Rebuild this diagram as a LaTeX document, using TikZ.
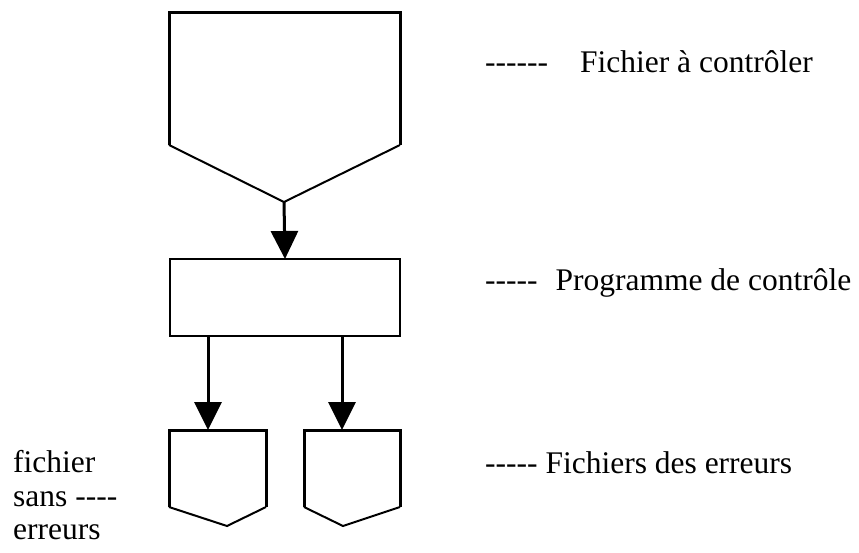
\documentclass[tikz,border=0pt]{standalone}
\usepackage{fontspec}
\setmainfont{Liberation Serif}[Ligatures=TeXOff]
\usetikzlibrary{arrows.meta}
\begin{document}
\begin{tikzpicture}[x=1pt,y=-1pt,
  box/.style={inner sep=0pt, outer sep=0pt},
  thick edge/.style={line width=3pt, line join=miter},
  thin edge/.style={line width=2pt},
  flow/.style={line width=3pt, -{Triangle[length=28pt,width=27pt]}, shorten >=0pt},
  lbl/.style={anchor=base west, inner sep=0pt, font=\fontsize{31.5}{33}\selectfont}]
\useasboundingbox (0,0) rectangle (859,552);
% top pentagon (fichier a controler)
\node[box, minimum width=231pt, minimum height=133pt] (f1) at (284.5,78.5) {};
\coordinate (f1tip) at (284,202);
\draw[thick edge] (f1.south west) -- (f1.north west) -- (f1.north east) -- (f1.south east);
\draw[thin edge] (f1.south west) -- (f1tip) -- (f1.south east);
% rectangle (programme)
\node[box, draw, line width=2pt, minimum width=230pt, minimum height=77pt] (prog) at (285,297.5) {};
% bottom pentagons
\node[box, minimum width=97pt, minimum height=77pt] (p1) at (217.5,468.5) {};
\coordinate (p1tip) at (227,526);
\draw[thick edge] (p1.south west) -- (p1.north west) -- (p1.north east) -- (p1.south east);
\draw[thin edge] (p1.south west) -- (p1tip) -- (p1.south east);
\node[box, minimum width=96pt, minimum height=77pt] (p2) at (352,468.5) {};
\coordinate (p2tip) at (343,526);
\draw[thick edge] (p2.south west) -- (p2.north west) -- (p2.north east) -- (p2.south east);
\draw[thin edge] (p2.south west) -- (p2tip) -- (p2.south east);
% connectors
\draw[flow] (f1tip) -- (prog.north);
\coordinate (s1) at (208,336);
\coordinate (s2) at (342,336);
\draw[flow] (s1) -- (s1 |- p1.north);
\draw[flow] (s2) -- (s2 |- p2.north);
% labels
\node[lbl] (t1) at (485,72) {------\hspace{32pt}Fichier à contrôler};
\node[lbl] (t2) at (485,290) {-----\hspace{18pt}Programme de contrôle};
\node[lbl] (t3) at (485,473) {----- Fichiers des erreurs};
\node[lbl] (t4) at (13,472) {fichier};
\node[lbl] (t5) at (13,506) {sans ----};
\node[lbl] (t6) at (13,539) {erreurs};
\end{tikzpicture}
\end{document}
